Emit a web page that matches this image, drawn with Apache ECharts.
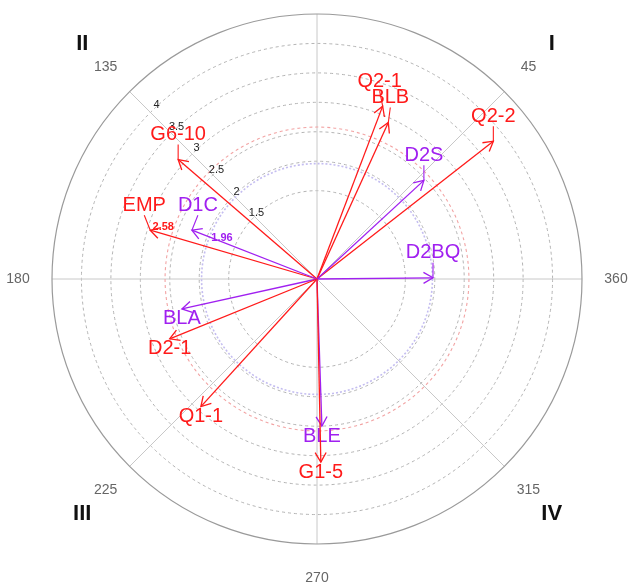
<!DOCTYPE html>
<html>
<head>
<meta charset="utf-8">
<script src="https://cdn.jsdelivr.net/npm/echarts@6/dist/echarts.min.js"></script>
<style>
html,body{margin:0;padding:0;background:#fff;}
#chart{width:628px;height:587px;}
</style>
</head>
<body>
<div id="chart"></div>
<script>
// ---- data ----
const arrowNames   = ['Q2-1','BLB','Q2-2','D2S','D2BQ','G6-10','EMP','D1C','BLA','D2-1','Q1-1','BLE','G1-5'];
const arrowLengths = [3.14, 2.92, 3.80, 2.47, 1.97, 3.11, 2.95, 2.28, 2.35, 2.70, 2.93, 2.50, 3.11];
const arrowAngles  = [69.2, 65.5, 38.0, 42.7, 0.6, 139.3, 163.7, 158.7, 192.5, 202.1, 227.7, 271.9, 271.2];
const arrowGroups  = ['red','red','red','purple','purple','red','red','purple','purple','red','red','purple','red'];
const thresholds   = [1.96, 2.58];
const thresholdGroups = ['purple','red'];
const radialTicks  = [1.5, 2, 2.5, 3, 3.5, 4];
const angleTickLabels = [360, 45, 135, 180, 225, 270, 315];
const quadrantNames = ['I','II','III','IV'];
const quadrantAngles = [45, 135, 225, 315];

// ---- styles ----
const COL = {red:'#ff1a1a', purple:'#a020f0'};
const RING = {red:'#f2a3a3', purple:'#c4bdf0'};
const FONT = "'Liberation Sans', Arial, Helvetica, sans-serif";
const labelNudge = {'EMP':-6, 'D1C':6, 'Q2-1':-3, 'BLB':2};
const MAXR = 4.5, RPX = 265;
const px2u = v => v / RPX * MAXR;

const chart = echarts.init(document.getElementById('chart'), null, {renderer:'canvas'});

const arrowData = arrowNames.map((n, i) => [arrowLengths[i], arrowAngles[i], i]);

const option = {
  animation: false,
  backgroundColor: '#fff',
  polar: {center: [317, 279], radius: RPX},
  angleAxis: {
    type: 'value', min: 0, max: 360, interval: 45, startAngle: 0, clockwise: false,
    axisLine: {show: true, lineStyle: {color: '#9a9a9a', width: 1.2}},
    axisTick: {show: false},
    axisLabel: {show: false},
    splitLine: {show: true, lineStyle: {color: '#c8c8c8', width: 1}}
  },
  radiusAxis: {
    type: 'value', min: 0, max: MAXR, interval: 0.5,
    axisLine: {show: false}, axisTick: {show: false}, axisLabel: {show: false},
    splitLine: {show: true, lineStyle: {
      color: ['rgba(0,0,0,0)','rgba(0,0,0,0)','rgba(0,0,0,0)','#b4b4b4','#b4b4b4','#b4b4b4','#b4b4b4','#b4b4b4','#b4b4b4','rgba(0,0,0,0)'],
      type: [3, 3], width: 1}}
  },
  series: [
    {
      type: 'custom', coordinateSystem: 'polar', silent: true, z: 2,
      data: thresholds.map((t, i) => [t, 0, i]),
      renderItem(params, api) {
        const i = api.value(2);
        const c = api.coord([0, 0]);
        const p = api.coord([api.value(0), 0]);
        const r = Math.hypot(p[0]-c[0], p[1]-c[1]);
        const g = thresholdGroups[i];
        return {type: 'circle', shape: {cx: c[0], cy: c[1], r: r},
          style: {fill: 'none', stroke: RING[g], lineWidth: g === 'purple' ? 1.6 : 1.1, lineDash: g === 'purple' ? [2, 2] : [3, 3]}};
      }
    },
    {
      type: 'custom', coordinateSystem: 'polar', silent: true, z: 3,
      data: thresholds.map((t, i) => [t, i]),
      renderItem(params, api) {
        const i = api.value(1);
        const g = thresholdGroups[i];
        const ang = g === 'red' ? 161.1 : 156.7;
        const off = g === 'red' ? [-10, -3] : [11, 4.5];
        const p = api.coord([api.value(0), ang]);
        return {type: 'text', x: p[0] + off[0], y: p[1] + off[1],
          style: {text: thresholds[i].toFixed(2), fill: COL[g], font: 'bold 11px ' + FONT, align: 'center', verticalAlign: 'middle'}};
      }
    },
    {
      type: 'custom', coordinateSystem: 'polar', silent: true, z: 5,
      data: arrowData,
      renderItem(params, api) {
        const i = api.value(2);
        const angV = api.value(1);
        const c = api.coord([0, 0]);
        const p = api.coord([api.value(0), angV]);
        const col = COL[arrowGroups[i]];
        const ang = Math.atan2(p[1]-c[1], p[0]-c[0]);
        const back = ang + Math.PI, L = 11, a = Math.PI / 6;
        const w1 = [p[0] + L*Math.cos(back-a), p[1] + L*Math.sin(back-a)];
        const w2 = [p[0] + L*Math.cos(back+a), p[1] + L*Math.sin(back+a)];
        const upper = angV < 180;
        const nx = labelNudge[arrowNames[i]] || 0;
        const children = [
          {type: 'line', shape: {x1: c[0], y1: c[1], x2: p[0], y2: p[1]}, style: {stroke: col, lineWidth: 1.3}},
          {type: 'polyline', shape: {points: [w1, p, w2]}, style: {stroke: col, fill: 'none', lineWidth: 1.3}}
        ];
        if (upper) {
          children.push({type: 'line', shape: {x1: p[0], y1: p[1], x2: p[0] + nx, y2: p[1] - 15}, style: {stroke: col, lineWidth: 1.1}});
          children.push({type: 'text', x: p[0] + nx, y: p[1] - 25,
            style: {text: arrowNames[i], fill: col, font: '20px ' + FONT, align: 'center', verticalAlign: 'middle'}});
        } else {
          children.push({type: 'text', x: p[0] + nx, y: p[1] + 10,
            style: {text: arrowNames[i], fill: col, font: '20px ' + FONT, align: 'center', verticalAlign: 'middle'}});
        }
        return {type: 'group', children: children};
      }
    },
    {
      type: 'custom', coordinateSystem: 'polar', silent: true, z: 4,
      data: radialTicks.map((v, i) => [v, i]),
      renderItem(params, api) {
        const i = api.value(1);
        const p = api.coord([api.value(0) + px2u(1), 132.7]);
        return {type: 'text', x: p[0], y: p[1],
          style: {text: String(radialTicks[i]), fill: '#222', font: '11px ' + FONT, align: 'center', verticalAlign: 'middle'}};
      }
    },
    {
      type: 'custom', coordinateSystem: 'polar', silent: true, z: 4,
      data: angleTickLabels.map((v, i) => [px2u(299), v, i]),
      renderItem(params, api) {
        const i = api.value(2);
        const p = api.coord([api.value(0), api.value(1)]);
        return {type: 'text', x: p[0], y: p[1],
          style: {text: String(angleTickLabels[i]), fill: '#666', font: '14px ' + FONT, align: 'center', verticalAlign: 'middle'}};
      }
    },
    {
      type: 'custom', coordinateSystem: 'polar', silent: true, z: 4,
      data: quadrantAngles.map((v, i) => [px2u(332), v, i]),
      renderItem(params, api) {
        const i = api.value(2);
        const p = api.coord([api.value(0), api.value(1)]);
        return {type: 'text', x: p[0], y: p[1],
          style: {text: quadrantNames[i], fill: '#111', font: 'bold 22px ' + FONT, align: 'center', verticalAlign: 'middle'}};
      }
    }
  ]
};
chart.setOption(option);
</script>
</body>
</html>
